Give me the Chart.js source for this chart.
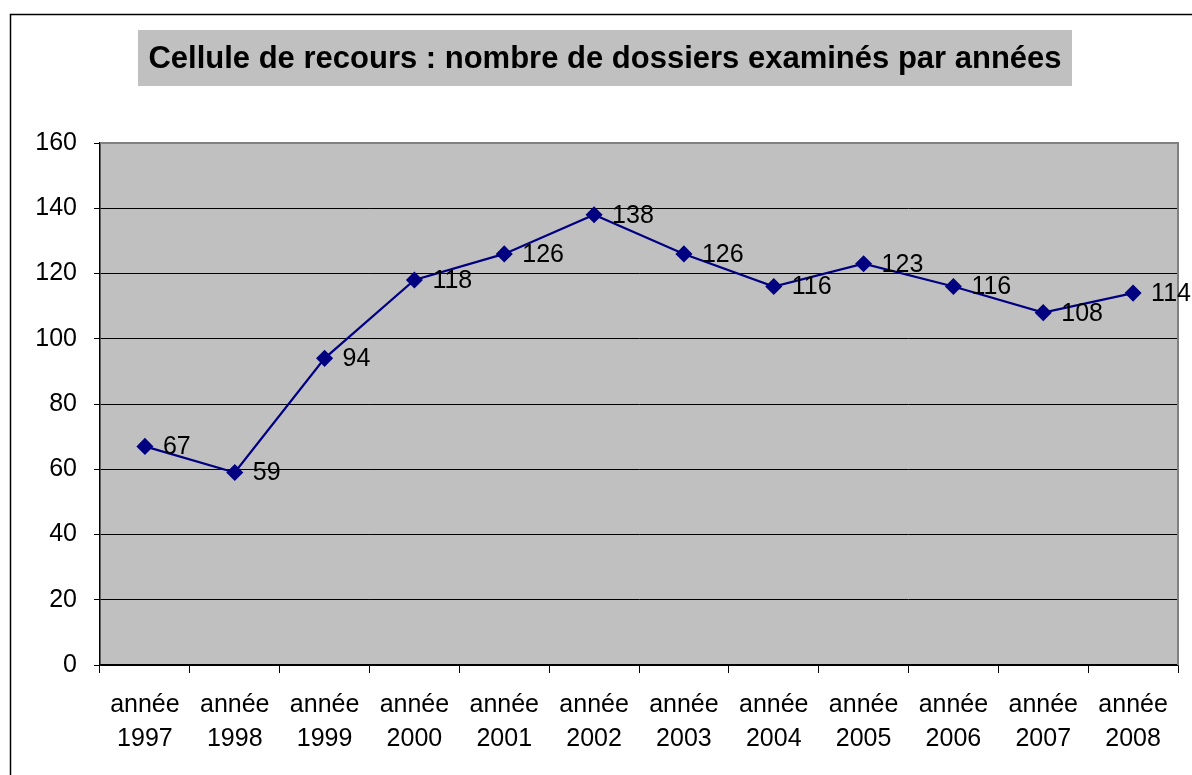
<!DOCTYPE html>
<html>
<head>
<meta charset="utf-8">
<script src="https://cdn.jsdelivr.net/npm/chart.js@4/dist/chart.umd.min.js"></script>
<style>
  html, body { margin: 0; padding: 0; background: #fff; }
  #wrap { width: 1192px; height: 775px; }
</style>
</head>
<body>
<div id="wrap"><canvas id="recoursChart" width="1192" height="775"></canvas></div>
<script>
const years = ['1997', '1998', '1999', '2000', '2001', '2002', '2003', '2004', '2005', '2006', '2007', '2008'];
const dossiers = [67, 59, 94, 118, 126, 138, 126, 116, 123, 116, 108, 114];
const yTicks = [0, 20, 40, 60, 80, 100, 120, 140, 160];
const titleText = 'Cellule de recours : nombre de dossiers examinés par années';

const FONT = 'Liberation Sans, Arial, sans-serif';

// background, outer frame and title box
const frame = {
    id: 'frame',
    beforeDraw(chart) {
        const c = chart.ctx;
        const a = chart.chartArea;
        c.save();
        c.fillStyle = '#fff';
        c.fillRect(0, 0, chart.width, chart.height);
        c.strokeStyle = '#000';
        c.lineWidth = 1.5;
        c.strokeRect(10.5, 14.5, 1400, 1000);
        c.fillStyle = '#c0c0c0';
        c.fillRect(138, 30, 934, 56);
        c.fillStyle = '#000';
        c.font = 'bold 31px ' + FONT;
        c.textAlign = 'center';
        c.textBaseline = 'middle';
        c.fillText(titleText, 605, 59);
        c.fillStyle = '#c0c0c0';
        c.fillRect(a.left, a.top, a.right - a.left, a.bottom - a.top);
        c.restore();
    },
    afterDatasetsDraw(chart) {
        const c = chart.ctx;
        const a = chart.chartArea;
        c.save();
        c.strokeStyle = '#808080';
        c.lineWidth = 2;
        c.beginPath();
        c.moveTo(a.left, a.top);
        c.lineTo(a.right, a.top);
        c.lineTo(a.right, a.bottom);
        c.stroke();
        // value labels
        const meta = chart.getDatasetMeta(0);
        c.fillStyle = '#000';
        c.font = '25px ' + FONT;
        c.textAlign = 'left';
        c.textBaseline = 'middle';
        meta.data.forEach((pt, i) => {
            c.fillText(String(dossiers[i]), pt.x + 18, pt.y + 1);
        });
        c.restore();
    }
};

new Chart(document.getElementById('recoursChart'), {
    type: 'line',
    data: {
        labels: years.map(y => ['année', y]),
        datasets: [{
            label: 'dossiers',
            data: dossiers,
            borderColor: '#000080',
            backgroundColor: '#000080',
            borderWidth: 2.2,
            pointStyle: 'rectRot',
            pointRadius: 7,
            pointHoverRadius: 7,
            tension: 0
        }]
    },
    options: {
        responsive: false,
        animation: false,
        layout: { padding: { top: 143, right: 14, left: 0, bottom: 0 } },
        plugins: {
            legend: { display: false },
            title: { display: false },
            tooltip: { enabled: false }
        },
        scales: {
            x: {
                offset: true,
                grid: { offset: true, drawOnChartArea: false, color: '#000', tickLength: 8, tickWidth: 1 },
                border: { color: '#000', width: 1.5 },
                ticks: { color: '#000', font: { family: FONT, size: 25, lineHeight: 1.36 }, padding: 15, maxRotation: 0, autoSkip: false },
                afterFit(s) { s.height = 110; }
            },
            y: {
                min: 0,
                max: 160,
                afterBuildTicks(s) { s.ticks = yTicks.map(v => ({ value: v })); },
                grid: { color: '#000', lineWidth: 1, tickLength: 6 },
                border: { color: '#000', width: 1.5 },
                ticks: { color: '#000', font: { family: FONT, size: 25 }, padding: 17 },
                afterFit(s) { s.width = 100; }
            }
        }
    },
    plugins: [frame]
});
</script>
</body>
</html>
